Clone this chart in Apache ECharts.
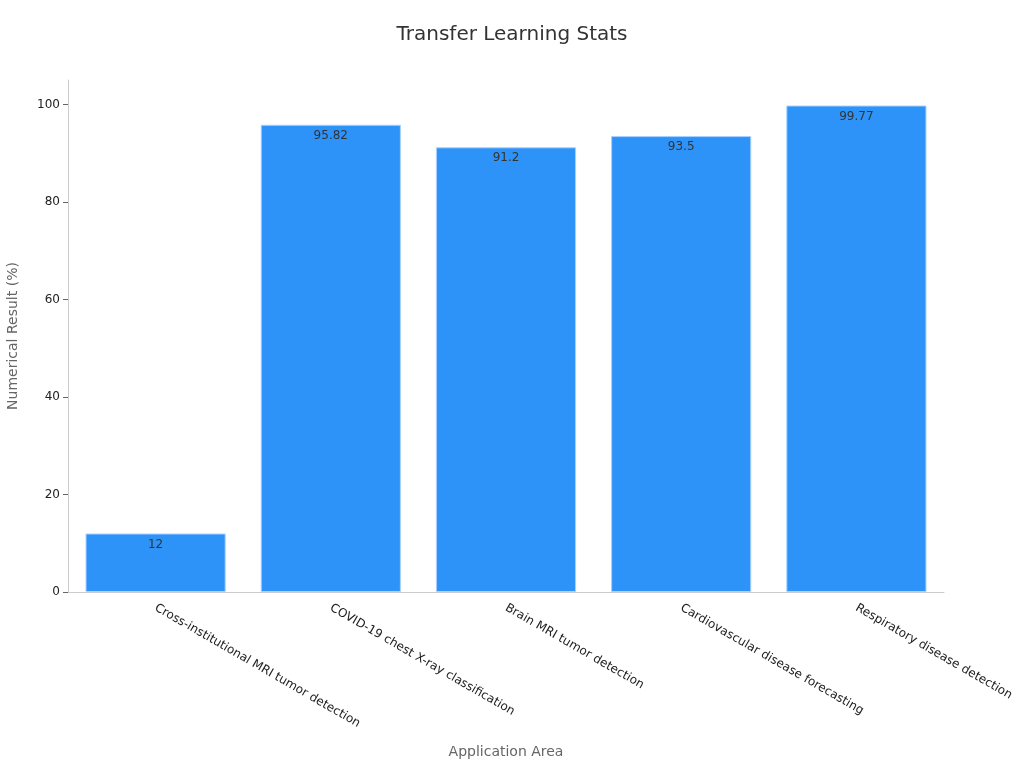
<!DOCTYPE html>
<html>
<head>
<meta charset="utf-8">
<script src="https://cdn.jsdelivr.net/npm/echarts@6/dist/echarts.min.js"></script>
<style>
  html, body { margin: 0; padding: 0; background: #fff; }
  #main { width: 1024px; height: 768px; }
</style>
</head>
<body>
<div id="main"></div>
<script>
// 数据
const categories = [
  'Cross-institutional MRI tumor detection',
  'COVID-19 chest X-ray classification',
  'Brain MRI tumor detection',
  'Cardiovascular disease forecasting',
  'Respiratory disease detection'
];
const values = [12, 95.82, 91.2, 93.5, 99.77];

let chart = echarts.init(document.getElementById('main'));
let option = {
  textStyle: {
    fontFamily: 'DejaVu Sans'
  },
  title: {
    text: 'Transfer Learning Stats',
    left: 'center',
    top: 20,
    textStyle: {
      color: '#333',
      fontSize: 20,
      fontWeight: 'normal',
      fontFamily: 'DejaVu Sans'
    }
  },
  grid: {
    left: 68,
    right: 80,
    top: 80,
    bottom: 176,
    outerBoundsMode: 'none',
    containLabel: false
  },
  xAxis: {
    type: 'category',
    data: categories,
    name: 'Application Area',
    nameLocation: 'middle',
    nameGap: 153,
    nameTextStyle: {
      color: '#666',
      fontSize: 14
    },
    axisLine: {
      lineStyle: { color: '#ccc' }
    },
    axisTick: {
      alignWithLabel: true,
      lineStyle: { color: '#666' }
    },
    axisLabel: {
      rotate: -30,
      color: '#222',
      fontSize: 12,
      margin: 15
    }
  },
  yAxis: {
    type: 'value',
    min: 0,
    max: 105,
    interval: 20,
    name: 'Numerical Result (%)',
    nameLocation: 'middle',
    nameGap: 48,
    nameTextStyle: {
      color: '#666',
      fontSize: 14
    },
    axisLine: {
      show: true,
      lineStyle: { color: '#ccc' }
    },
    axisTick: {
      show: true,
      lineStyle: { color: '#666' }
    },
    axisLabel: {
      color: '#222',
      fontSize: 12,
      showMaxLabel: false
    },
    splitLine: { show: false }
  },
  series: [
    {
      type: 'bar',
      data: values,
      barCategoryGap: '20%',
      itemStyle: {
        color: '#2e93f9',
        borderColor: '#a8d2ff',
        borderWidth: 1
      },
      label: {
        show: true,
        position: 'insideTop',
        color: '#333',
        fontSize: 12,
        distance: 5
      }
    }
  ]
};
chart.setOption(option);
</script>
</body>
</html>
